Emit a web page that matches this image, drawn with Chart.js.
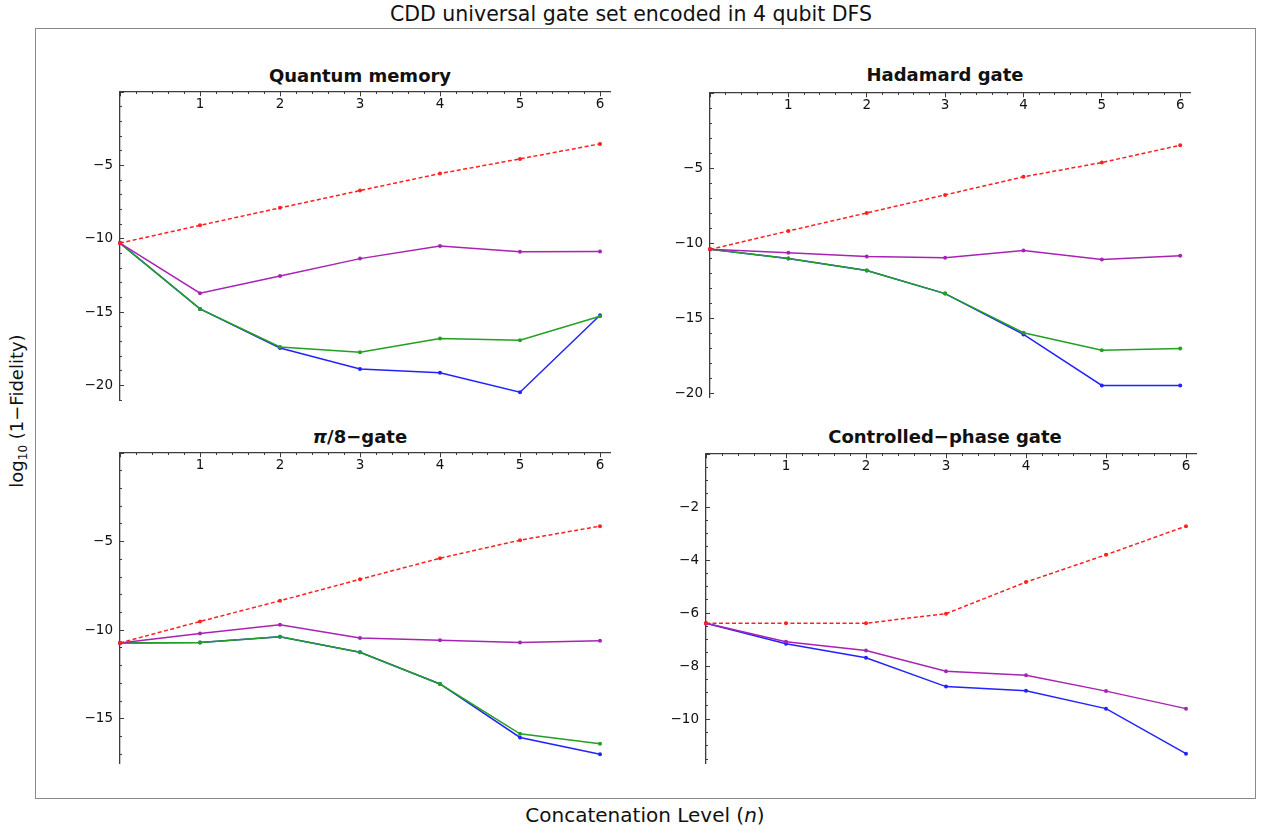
<!DOCTYPE html>
<html lang="en">
<head>
<meta charset="UTF-8">
<title>CDD universal gate set encoded in 4 qubit DFS</title>
<script src="https://cdn.jsdelivr.net/npm/chart.js@4.4.0/dist/chart.umd.min.js"></script>
<style>
    * { margin: 0; padding: 0; box-sizing: border-box; }

    body {
        width: 1261px;
        height: 831px;
        position: relative;
        overflow: hidden;
        background: #fff;
        color: #111;
        font-family: 'DejaVu Sans', sans-serif;
    }

    .frame {
        position: absolute;
        left: 35px;
        top: 28px;
        width: 1221px;
        height: 771px;
        border: 1px solid #8a8a8a;
    }

    .label {
        position: absolute;
        white-space: nowrap;
        transform: translate(-50%, -50%);
    }

    .main-title { left: 631px; top: 14px; font-size: 20.5px; }
    .panel-title { font-size: 18px; font-weight: bold; }
    .x-title { left: 645px; top: 815px; font-size: 20px; }
    .y-title { left: 18px; top: 411px; font-size: 18px; transform: translate(-50%, -50%) rotate(-90deg); }
    .y-title sub { font-size: 12px; }

    .panel { position: absolute; }
</style>
</head>
<body>
    <div class="frame"></div>
    <div class="label main-title">CDD universal gate set encoded in 4 qubit DFS</div>
    <div class="label y-title">log<sub>10</sub> (1&minus;Fidelity)</div>
    <div class="label x-title">Concatenation Level (<i>n</i>)</div>

    <div class="label panel-title" style="left:360px; top:75px">Quantum memory</div>
    <div class="label panel-title" style="left:945px; top:74px">Hadamard gate</div>
    <div class="label panel-title" style="left:360px; top:436px"><i>&pi;</i>/8&minus;gate</div>
    <div class="label panel-title" style="left:945px; top:436px">Controlled&minus;phase gate</div>

    <div class="panel"><canvas id="memoryChart"></canvas></div>
    <div class="panel"><canvas id="hadamardChart"></canvas></div>
    <div class="panel"><canvas id="piEightChart"></canvas></div>
    <div class="panel"><canvas id="cphaseChart"></canvas></div>

<script>
    // concatenation levels
    const levels = [0, 1, 2, 3, 4, 5, 6];

    // log10(1 - Fidelity)
    const memoryRed    = [-10.3, -9.09, -7.9, -6.72, -5.56, -4.56, -3.54];
    const memoryPurple = [-10.3, -13.72, -12.54, -11.36, -10.5, -10.9, -10.88];
    const memoryGreen  = [-10.3, -14.79, -17.38, -17.74, -16.81, -16.93, -15.29];
    const memoryBlue   = [-10.3, -14.79, -17.45, -18.88, -19.15, -20.47, -15.22];

    const hadamardRed    = [-10.39, -9.17, -7.97, -6.77, -5.57, -4.62, -3.47];
    const hadamardPurple = [-10.39, -10.61, -10.87, -10.94, -10.47, -11.07, -10.81];
    const hadamardGreen  = [-10.39, -10.99, -11.79, -13.33, -15.93, -17.1, -16.97];
    const hadamardBlue   = [-10.39, -10.99, -11.79, -13.33, -16.04, -19.43, -19.43];

    const piEightRed    = [-10.72, -9.51, -8.34, -7.13, -5.94, -4.92, -4.13];
    const piEightPurple = [-10.72, -10.19, -9.7, -10.44, -10.57, -10.7, -10.6];
    const piEightGreen  = [-10.72, -10.7, -10.38, -11.25, -13.04, -15.85, -16.41];
    const piEightBlue   = [-10.72, -10.7, -10.38, -11.25, -13.04, -16.06, -17.0];

    const cphaseRed    = [-6.38, -6.38, -6.38, -6.02, -4.83, -3.8, -2.72];
    const cphasePurple = [-6.38, -7.08, -7.41, -8.19, -8.34, -8.94, -9.6];
    const cphaseBlue   = [-6.38, -7.15, -7.68, -8.77, -8.93, -9.6, -11.3];

    const axisColor = '#3c3c3c';
    const tickFont = { family: "'DejaVu Sans', sans-serif", size: 13.5 };

    const styles = {
        red:    { color: '#ff2020', dash: [4, 2.5] },
        purple: { color: '#a823b4', dash: [] },
        green:  { color: '#22a022', dash: [] },
        blue:   { color: '#2222ff', dash: [] }
    };

    // scale size is fixed so the plot box lands where we want it
    function squeeze(size) {
        return function (scale) {
            if (scale.isHorizontal()) scale.height = size;
            else scale.width = size;
            scale.paddingTop = scale.paddingBottom = 0;
            scale.paddingLeft = scale.paddingRight = 0;
        };
    }

    function minus(v) {
        return v === 0 ? '' : String(v).replace('-', '\u2212');
    }

    function makePanel(canvasId, box, yMin, yStep, yMinor, series) {
        const padLeft = 50, pad = 10;
        const canvas = document.getElementById(canvasId);
        const wrap = canvas.parentNode;
        const w = box.right - box.left + padLeft + pad;
        const h = box.bottom - box.top + 2 * pad;
        wrap.style.left = (box.left - padLeft) + 'px';
        wrap.style.top = (box.top - pad) + 'px';
        canvas.width = w;
        canvas.height = h;
        canvas.style.width = w + 'px';
        canvas.style.height = h + 'px';

        const datasets = series.map(([name, values]) => ({
            label: name,
            data: levels.map((x, i) => ({ x: x, y: values[i] })),
            borderColor: styles[name].color,
            backgroundColor: styles[name].color,
            borderDash: styles[name].dash,
            borderWidth: 1.5,
            pointRadius: 2,
            pointBorderWidth: 0,
            pointBackgroundColor: styles[name].color,
            tension: 0,
            clip: false
        }));

        new Chart(canvas, {
            type: 'line',
            data: { datasets: datasets },
            options: {
                responsive: false,
                animation: false,
                layout: { padding: { left: pad, right: pad, top: pad, bottom: pad } },
                plugins: {
                    legend: { display: false },
                    tooltip: { enabled: false }
                },
                scales: {
                    x: {
                        type: 'linear',
                        position: { y: 0 },
                        min: 0,
                        max: 6.125,
                        afterFit: squeeze(0),
                        border: { display: true, color: axisColor, width: 1.3 },
                        grid: { display: true, drawOnChartArea: false, drawTicks: true, tickLength: 4, tickColor: axisColor, tickWidth: 1 },
                        ticks: { stepSize: 1, includeBounds: false, autoSkip: false, maxRotation: 0, padding: 0, color: '#111', font: tickFont, callback: minus }
                    },
                    x2: {
                        type: 'linear',
                        position: { y: 0 },
                        min: 0,
                        max: 6.125,
                        afterFit: squeeze(0),
                        border: { display: false },
                        grid: { display: true, drawOnChartArea: false, drawTicks: true, tickLength: 2, tickColor: axisColor, tickWidth: 1 },
                        ticks: { stepSize: 0.2, includeBounds: false, autoSkip: false, display: false }
                    },
                    y: {
                        type: 'linear',
                        position: 'left',
                        weight: 1,
                        min: yMin,
                        max: 0,
                        afterFit: squeeze(40),
                        border: { display: true, color: axisColor, width: 1.3 },
                        grid: { display: true, drawOnChartArea: false, drawTicks: true, tickLength: -4, tickColor: axisColor, tickWidth: 1 },
                        ticks: { stepSize: yStep, includeBounds: false, autoSkip: false, padding: 11, color: '#111', font: tickFont, callback: minus }
                    },
                    y2: {
                        type: 'linear',
                        position: 'left',
                        weight: 0,
                        min: yMin,
                        max: 0,
                        afterFit: squeeze(0),
                        border: { display: false },
                        grid: { display: true, drawOnChartArea: false, drawTicks: true, tickLength: -2, tickColor: axisColor, tickWidth: 1 },
                        ticks: { stepSize: yMinor, includeBounds: false, autoSkip: false, display: false }
                    }
                }
            }
        });
    }

    makePanel('memoryChart', { left: 120, right: 610, top: 92, bottom: 400 }, -21, 5, 1, [
        ['red', memoryRed], ['purple', memoryPurple], ['green', memoryGreen], ['blue', memoryBlue]
    ]);
    makePanel('hadamardChart', { left: 710, right: 1190, top: 93, bottom: 397 }, -20.2, 5, 1, [
        ['red', hadamardRed], ['purple', hadamardPurple], ['green', hadamardGreen], ['blue', hadamardBlue]
    ]);
    makePanel('piEightChart', { left: 120, right: 610, top: 453, bottom: 763 }, -17.5, 5, 1, [
        ['red', piEightRed], ['purple', piEightPurple], ['green', piEightGreen], ['blue', piEightBlue]
    ]);
    makePanel('cphaseChart', { left: 706, right: 1196, top: 454, bottom: 763 }, -11.65, 2, 0.5, [
        ['red', cphaseRed], ['purple', cphasePurple], ['blue', cphaseBlue]
    ]);
</script>
</body>
</html>
